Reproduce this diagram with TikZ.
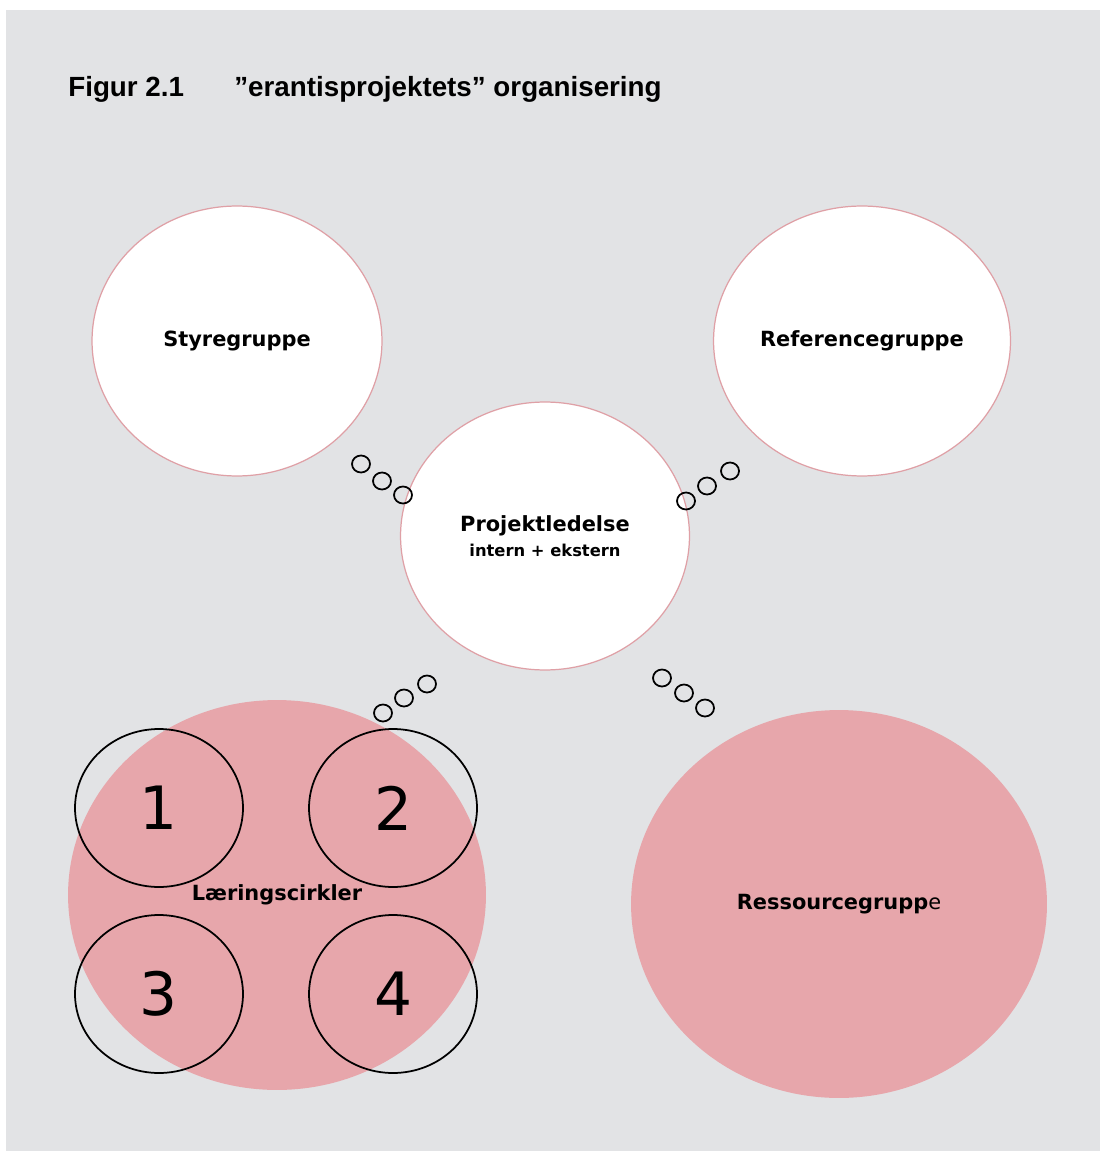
\documentclass[tikz,border=0pt]{standalone}
\usepackage{fontspec}
\setmainfont{DejaVu Sans}
\newfontfamily\titlefont{Liberation Sans}
\usepackage{tikz}
\usetikzlibrary{shapes.geometric, positioning}

\definecolor{panelgray}{HTML}{E2E3E5}
\definecolor{rosefill}{HTML}{E7A6AB}
\definecolor{roseline}{HTML}{DFA0A6}

\begin{document}
\begin{tikzpicture}[x=0.02cm, y=-0.02cm]
    % Define styles for the nodes
    \tikzstyle{group} = [
        ellipse, inner sep=0, align=center,
        font=\fontsize{11.9}{12.5}\selectfont\bfseries
    ]
    \tikzstyle{whitegroup} = [
        group, draw=roseline, line width=0.7pt, fill=white,
        minimum width=5.8cm, minimum height=5.4cm
    ]
    \tikzstyle{rosegroup} = [
        group, fill=rosefill,
        minimum width=8.34cm, minimum height=7.8cm
    ]
    \tikzstyle{circle_no} = [
        ellipse, draw=black, line width=1pt, inner sep=0,
        minimum width=3.36cm, minimum height=3.16cm,
        font=\fontsize{34}{34}\selectfont
    ]
    \tikzstyle{bubble} = [
        ellipse, draw=black, line width=1pt, inner sep=0,
        minimum width=0.36cm, minimum height=0.34cm
    ]

    % Frame
    \useasboundingbox (0,0) rectangle (1100,1151);
    \fill[panelgray] (6,10) rectangle (1100,1151);

    % Title
    \node[anchor=base west, inner sep=0, font=\titlefont\fontsize{15.8}{16}\selectfont\bfseries]
        (fig_no) at (68,97) {Figur 2.1};
    \node[anchor=base west, inner sep=0, font=\titlefont\fontsize{15.8}{16}\selectfont\bfseries]
        (fig_title) at (234,97) {”erantisprojektets” organisering};

    % Upper groups
    \node[whitegroup]                          (styre) at (237,341) {Styregruppe};
    \node[whitegroup, minimum width=5.94cm]    (ref)   at (862,341) {Referencegruppe};
    \node[whitegroup, minimum width=5.78cm, minimum height=5.36cm]
        (ledelse) at (545,536) {Projektledelse\\[2pt]{\fontsize{9.3}{10}\selectfont intern + ekstern}};

    % Lower groups
    \node[rosegroup, minimum width=8.36cm]                      (laering) at (277,895) {};
    \node[rosegroup, minimum width=8.32cm, minimum height=7.76cm] (ressource) at (839,904)
        {Ressourcegrupp{\mdseries e}};

    % Learning circles
    \node[circle_no] (lc1) at (159,808) {1};
    \node[circle_no] (lc2) at (393,808) {2};
    \node[circle_no] (lc3) at (159,994) {3};
    \node[circle_no] (lc4) at (393,994) {4};
    \node[group] (laering_label) at (277,895) {Læringscirkler};

    % Bubbles
    \foreach \name/\x/\y in {sa1/361/464, sa2/382/481, sa3/403/495,
                             ra1/686/501, ra2/707/486, ra3/730/471,
                             la1/383/713, la2/404/698, la3/427/684,
                             ga1/662/678, ga2/684/693, ga3/705/708}
        \node[bubble] (\name) at (\x,\y) {};

\end{tikzpicture}
\end{document}
